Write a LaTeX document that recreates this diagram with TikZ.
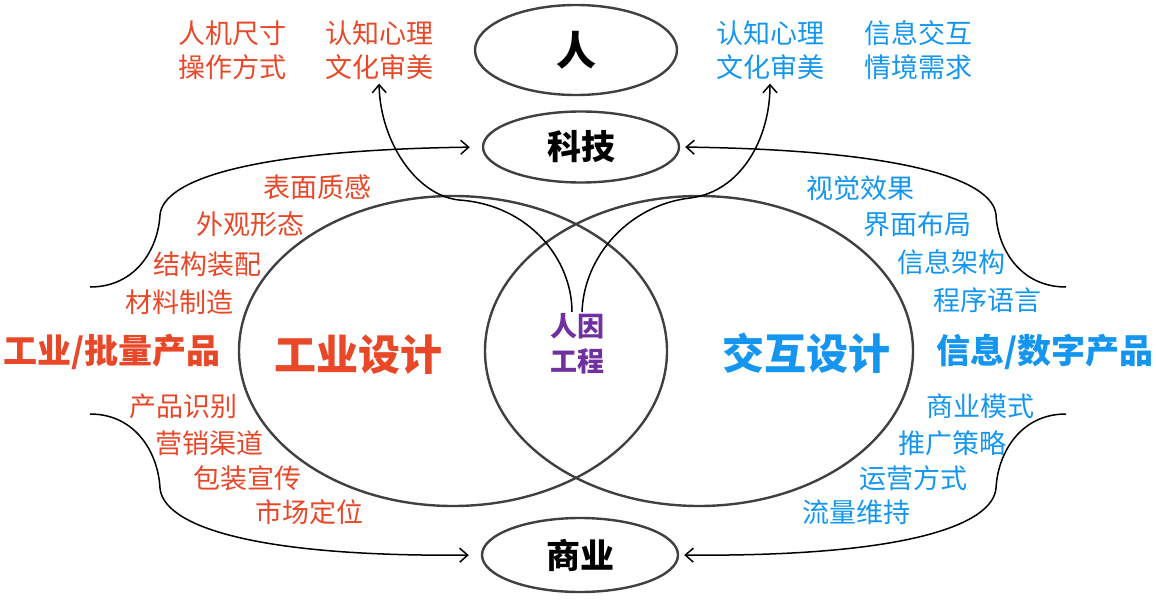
\documentclass[tikz,border=0pt]{standalone}
\usepackage{fontspec}
\setmainfont{Noto Sans CJK SC}
\usetikzlibrary{shapes.geometric,arrows.meta}
\definecolor{idred}{RGB}{232,72,40}
\definecolor{ixblue}{RGB}{20,150,240}
\definecolor{hfpurple}{RGB}{112,48,160}
\definecolor{rim}{RGB}{64,64,64}

\begin{document}
\begin{tikzpicture}[x=1pt,y=-1pt,
  ring/.style={draw=rim,line width=2.4pt,ellipse,inner sep=0},
  tag/.style={font=\fontsize{27}{34}\selectfont,align=left,inner sep=0},
  head/.style={font=\bfseries\fontsize{34}{34}\selectfont,inner sep=0},
  link/.style={line width=1.5pt,-{Straight Barb[length=8pt,width=14pt]}}]

\useasboundingbox (0,0) rectangle (1156,602);

% ellipses
\node[ring,minimum width=202pt,minimum height=90pt,font=\bfseries\fontsize{40}{40}\selectfont] (ren) at (576,50) {人};
\node[ring,minimum width=196pt,minimum height=71pt,font=\bfseries\fontsize{34}{34}\selectfont] (keji) at (581,147) {科技};
\node[ring,minimum width=196pt,minimum height=74pt,font=\bfseries\fontsize{34}{34}\selectfont] (shangye) at (580,555) {商业};
\node[ring,minimum width=428pt,minimum height=310pt] (gyring) at (453,351) {};
\node[ring,minimum width=428pt,minimum height=310pt] (jhring) at (699,351) {};

% top labels
\node[tag,text=idred] (rjcc) at (232,50) {人机尺寸\\操作方式};
\node[tag,text=idred] (rzl) at (379,50) {认知心理\\文化审美};
\node[tag,text=ixblue] (rzr) at (770,50) {认知心理\\文化审美};
\node[tag,text=ixblue] (xxjh) at (918,50) {信息交互\\情境需求};

% left list
\node[tag,text=idred,anchor=west] (bmzg) at (263,187) {表面质感};
\node[tag,text=idred,anchor=west] (wgxt) at (196,224) {外观形态};
\node[tag,text=idred,anchor=west] (jgzp) at (153,264) {结构装配};
\node[tag,text=idred,anchor=west] (clzz) at (125,302) {材料制造};
\node[tag,text=idred,anchor=west] (cpsb) at (129,406) {产品识别};
\node[tag,text=idred,anchor=west] (yxqd) at (155,443) {营销渠道};
\node[tag,text=idred,anchor=west] (bzxc) at (193,478) {包装宣传};
\node[tag,text=idred,anchor=west] (scdw) at (255,512) {市场定位};

% right list
\node[tag,text=ixblue,anchor=west] (sjxg) at (806,188) {视觉效果};
\node[tag,text=ixblue,anchor=west] (jmbj) at (863,224) {界面布局};
\node[tag,text=ixblue,anchor=west] (xxjg) at (897,262) {信息架构};
\node[tag,text=ixblue,anchor=west] (cxyy) at (933,300) {程序语言};
\node[tag,text=ixblue,anchor=west] (syms) at (926,406) {商业模式};
\node[tag,text=ixblue,anchor=west] (tgcl) at (898,443) {推广策略};
\node[tag,text=ixblue,anchor=west] (yyfs) at (859,478) {运营方式};
\node[tag,text=ixblue,anchor=west] (llwc) at (802,512) {流量维持};

% main titles
\node[head,text=idred,anchor=west] (gycp) at (3,352) {工业/批量产品};
\node[head,text=ixblue,anchor=east] (xxcp) at (1154,352) {信息/数字产品};
\node[head,text=idred,font=\bfseries\fontsize{42}{42}\selectfont] (gysj) at (358,355) {工业设计};
\node[head,text=ixblue,font=\bfseries\fontsize{42}{42}\selectfont] (jhsj) at (806,353) {交互设计};
\node[head,text=hfpurple,align=center,font=\bfseries\fontsize{27}{35}\selectfont] (ryg) at (577,344) {人因\\工程};

% brace arrows
\coordinate (lu) at (90,287);
\coordinate (ru) at (1066,287);
\coordinate (ll) at (90,414);
\coordinate (rl) at (1066,414);
\draw[link,shorten >=12pt] (lu) .. controls (135,287) and (158,250) .. (160,215)
  .. controls (163,180) and (250,150) .. (keji.west);
\draw[link,shorten >=5pt] (ru) .. controls (1021,287) and (998,250) .. (996,215)
  .. controls (993,180) and (906,150) .. (keji.east);
\draw[link,shorten >=12pt] (ll) .. controls (135,414) and (158,452) .. (160,488)
  .. controls (163,525) and (250,557) .. (shangye.west);
\draw[link,shorten >=5pt] (rl) .. controls (1021,414) and (998,452) .. (996,488)
  .. controls (993,525) and (906,557) .. (shangye.east);

% human factors arrows
\coordinate (hfl) at (572,312);
\coordinate (hfr) at (582,312);
\draw[link,shorten >=4pt] (hfl) .. controls (572,260) and (530,205) .. (459,200)
  .. controls (415,195) and (380,140) .. (rzl.south);
\draw[link,shorten >=4pt] (hfr) .. controls (584,255) and (630,205) .. (690,198)
  .. controls (740,192) and (770,140) .. (rzr.south);
\end{tikzpicture}
\end{document}
